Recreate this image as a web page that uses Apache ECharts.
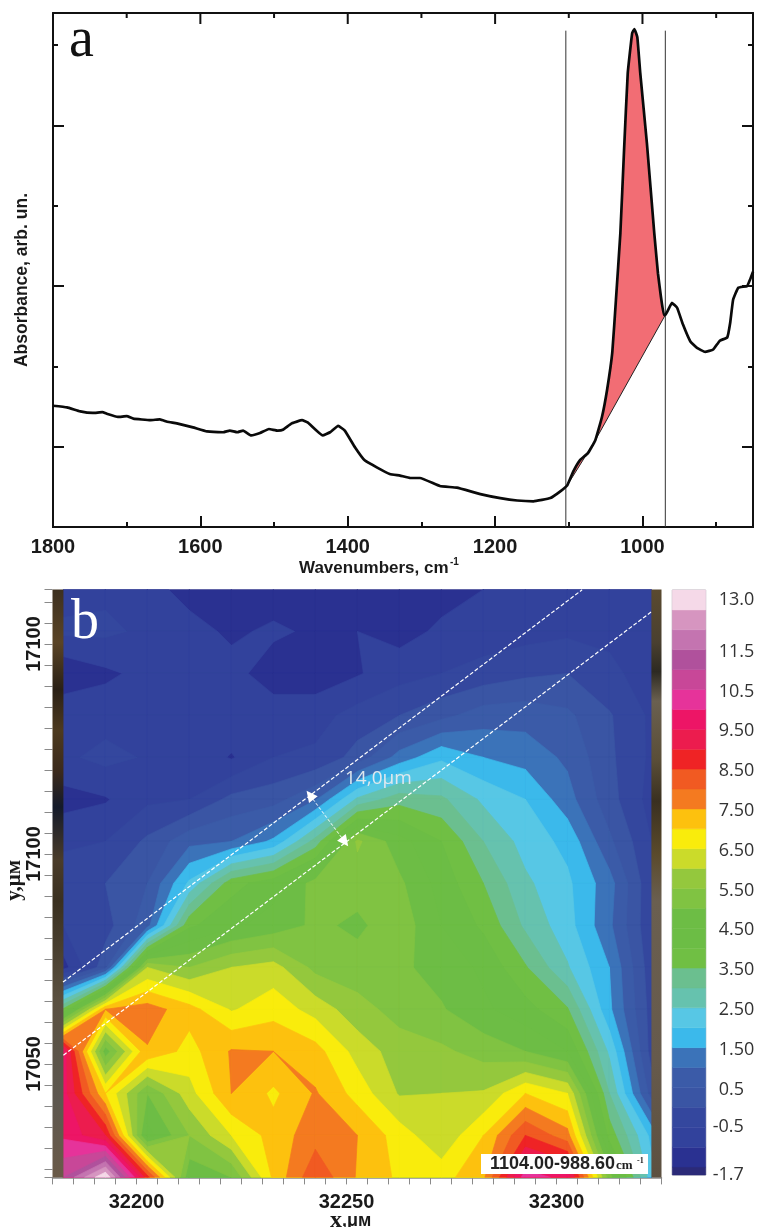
<!DOCTYPE html>
<html><head><meta charset="utf-8">
<style>html,body{margin:0;padding:0;background:#fff}#c{width:759px;height:1227px}</style>
<script src="https://cdn.jsdelivr.net/npm/echarts@6/dist/echarts.min.js"></script>
</head><body><div id="c"></div>
<script>
// ---------- panel a: spectrum ----------
const spectrumWn = [1800,1781,1763,1746,1733,1727,1712,1700,1691,1668,1655,1645,1632,1610,1591,1569,1560,1550,1542,1531,1519,1507,1495,1488,1476,1462,1454,1434,1424,1413,1404,1390,1377,1360,1343,1329,1315,1302,1275,1252,1220,1193,1170,1148,1125,1112,1102,1094,1085,1074,1064,1055,1048,1041,1036,1030,1025,1020,1014,1011,1007,1003,994,984,979,975,971,969,960,953,945,935,926,915,904,895,885,881,877,870,858,854,850];
const spectrumAbs = [.151,.149,.144,.142,.143,.141,.137,.138,.135,.133,.134,.131,.129,.124,.119,.118,.120,.118,.120,.114,.117,.122,.120,.121,.129,.133,.130,.114,.118,.126,.120,.099,.083,.074,.066,.064,.061,.061,.051,.049,.041,.036,.033,.032,.036,.044,.052,.069,.083,.092,.108,.137,.171,.217,.283,.366,.469,.565,.615,.620,.610,.565,.478,.366,.316,.287,.264,.264,.279,.273,.252,.231,.223,.218,.221,.232,.236,.254,.283,.298,.300,.308,.318];
const chordWn = [1102,1064,969];
const chordAbs = [.052,.108,.264];
const markerWn = [1104,969];
const markerTop = .618;
const xMajorA = [1800,1600,1400,1200,1000];
const xMinorA = [1700,1500,1300,1100,900];
const yMajorA = [.1,.3,.5];
const yMinorA = [.2,.4,.6];
const absMax = .64;

// ---------- panel b: map ----------
const mapX = [32182.6,32192.6,32202.6,32212.6,32222.6,32232.6,32242.6,32252.6,32262.6,32272.6,32282.6,32292.6,32302.6,32312.6,32322.6];
const mapY = [17163,17153,17143,17133,17123,17113,17103,17093,17083,17073,17063,17053,17043,17033,17023];
const row00 = [-.7,-.6,-.8,-1.2,-1.3,-1.3,-1.3,-1.3,-1.3,-1.2,-1.0,-.8,-.8,-.7,-.7];
const row01 = [-.4,-.4,-.6,-.8,-1.1,-.9,-1.1,-1.0,-1.2,-.9,-.8,-.7,-.6,-.6,-.7];
const row02 = [-1.4,-1.1,-.85,-.7,-.8,-1.3,-1.3,-1.05,-.7,-.5,-.3,-.1,0,-.4,-.7];
const row03 = [-.6,-.7,-.6,-.6,-.6,-.7,-.7,-.3,0,.35,.75,.8,.6,.05,-.6];
const row04 = [-.6,-.35,-.55,-.6,-1.05,-.5,-.4,.2,1.2,1.9,1.5,1.3,.9,.1,-.6];
const row05 = [-1.2,-1.05,-.6,-.5,.15,.3,.95,2.6,3.3,3.1,2.4,2.0,1.2,.2,-.7];
const row06 = [-.6,-.5,.1,.85,1.0,1.6,3.2,5.6,4.7,4.0,3.0,2.3,1.85,.6,-.5];
const row07 = [-.2,0,.5,2.1,3.8,4.3,5.2,5.2,5.1,4.3,3.5,2.6,2.1,1.2,-.4];
const row08 = [-.5,-.2,.8,3.9,4.4,4.7,5.1,4.9,5.3,4.5,3.9,2.9,2.2,1.1,-.4];
const row09 = [-1.2,.3,6.0,5.5,6.0,6.2,5.35,5.2,5.1,4.8,4.4,3.55,2.55,1.5,-.3];
const row10 = [3.6,7.5,7.75,7.2,6.45,6.8,6.3,5.7,5.3,5.05,4.6,4.2,3.55,1.6,-.2];
const row11 = [9.8,4.7,7.45,6.8,7.55,7.5,7.2,6.3,5.75,5.6,5.3,5.0,4.5,2.4,-.2];
const row12 = [9.7,7.0,5.0,6.3,7.5,6.9,7.55,6.8,5.95,6.0,6.05,7.0,6.5,3.0,.28];
const row13 = [9.9,9.0,4.3,5.5,6.5,7.2,7.8,7.5,6.75,6.1,7.0,8.5,7.7,3.8,1.85];
const row14 = [11,13,8.7,4.6,5.0,7.1,8.4,7.45,6.9,6.8,7.4,10.3,9.8,5.2,2.2];
const mapValues = [row00,row01,row02,row03,row04,row05,row06,row07,row08,row09,row10,row11,row12,row13,row14];

const bandLevels = [-1.7,-1.5,-1,-.5,0,.5,1,1.5,2,2.5,3,3.5,4,4.5,5,5.5,6,6.5,7,7.5,8,8.5,9,9.5,10,10.5,11,11.5,12,12.5,13];
const bandColors = ['#2B2A78','#2A3191','#32429C','#34479E','#3A55A4','#3B5BA8','#3B73B9','#3BB9EB','#57C7E5','#66C2AE','#6BBF8F','#70BF44','#6CBD45','#6DBD45','#80C342','#94C83D','#CBDB2A','#F9EC0C','#FDC10E','#F47A20','#F15A22','#EF2325','#EC1C4E','#ED1566','#E6339A','#C84798','#B0519C','#C474B0','#D695C0','#F5D9E8'];
const colorbarLabels = [13,11.5,10.5,9.5,8.5,7.5,6.5,5.5,4.5,3.5,2.5,1.5,.5];
const colorbarLabelText = {11.5:'11.5',10.5:'10.5',9.5:'9.50',8.5:'8.50',7.5:'7.50',6.5:'6.50',5.5:'5.50',4.5:'4.50',3.5:'3.50',2.5:'2.50',1.5:'1.50',.5:'0.5'};
const colorbarNegLabels = [-.5,-1.7];

const xTicksB = []; for (let v = 32180; v <= 32325; v += 5) xTicksB.push(v);
const yTicksB = [17023,17163]; for (let v = 17025; v <= 17160; v += 5) yTicksB.push(v);
const xLabelsB = [32200,32250,32300];
const yLabelsB = [17050,17100,17150];
const yLabelText = {17050:'17050',17100:'17100',17150:'17100'};

const scanLineUpperX = [32182.5,32306.1], scanLineUpperY = [17069.5,17162.9];
const scanLineLowerX = [32182.6,32322.5], scanLineLowerY = [17052.1,17157.6];
const widthArrowX = [32241.3,32249.6], widthArrowY = [17114,17102.9];

const stripLeftStops = [['0','#3d3020'],['.09','#5a4426'],['.17','#2a2015'],['.24','#4d3a1f'],['.31','#3b2a1c'],['.37','#141a2a'],['.46','#4a3c2a'],['.53','#3a3020'],['.7','#5a5040'],['.87','#5e5850'],['1','#6a5a48']];
const stripRightStops = [['0','#5a4a30'],['.09','#4a4030'],['.14','#2d2a22'],['.19','#6a6050'],['.29','#5a4e38'],['.36','#3a3020'],['.45','#5a4a2c'],['.53','#6a5f50'],['.8','#665a4c'],['1','#5c5040']];

const bold = 'Liberation Sans';
const axisBlack = {lineStyle:{color:'#111',width:2}};
function aXAxis(ticks, len, labels){
  return {gridIndex:0,type:'value',inverse:true,min:850,max:1800,position:'bottom',
    axisLine:{show:true,onZero:false,...axisBlack},splitLine:{show:false},
    axisTick:{show:true,inside:true,length:len,customValues:ticks,lineStyle:{color:'#111',width:2}},
    axisLabel:labels?{show:true,customValues:labels,margin:10,fontFamily:bold,fontWeight:'bold',fontSize:20,color:'#1a1a1a',formatter:v=>String(v)}:{show:false}};
}
function aYAxis(pos, ticks, len){
  return {gridIndex:0,type:'value',min:0,max:absMax,position:pos,
    axisLine:{show:true,onZero:false,...axisBlack},splitLine:{show:false},
    axisTick:{show:true,inside:true,length:len,customValues:ticks,lineStyle:{color:'#111',width:2}},
    axisLabel:{show:false}};
}
function renderTopTick(params, api){
  const v = api.value(0), isMajor = xMajorA.includes(v);
  const p = api.coord([v,absMax]);
  return {type:'line',shape:{x1:p[0],y1:p[1],x2:p[0],y2:p[1]+(isMajor?11:5)},style:{stroke:'#111',lineWidth:2}};
}

function clipQuad(pts, level){
  const out = [];
  for (let i=0;i<pts.length;i++){
    const a=pts[i], b=pts[(i+1)%pts.length];
    if (a[2]>=level) out.push(a);
    if ((a[2]>=level)!==(b[2]>=level)){
      const t=(level-a[2])/(b[2]-a[2]);
      out.push([a[0]+t*(b[0]-a[0]),a[1]+t*(b[1]-a[1]),level]);
    }
  }
  return out;
}
function renderBand(params, api){
  const idx = params.dataIndex, level = bandLevels[idx], color = bandColors[idx];
  const children = [];
  for (let r=0;r<mapY.length-1;r++) for (let c=0;c<mapX.length-1;c++){
    const p=(rr,cc)=>{const q=api.coord([mapX[cc],mapY[rr]]);return [q[0],q[1],mapValues[rr][cc]];};
    const poly = clipQuad([p(r,c),p(r,c+1),p(r+1,c+1),p(r+1,c)],level);
    if (poly.length>2) children.push({type:'polygon',shape:{points:poly.map(q=>[q[0],q[1]])},style:{fill:color,stroke:color,lineWidth:.7}});
  }
  return {type:'group',children};
}
function renderStrip(params, api){
  const d = params.dataIndex===0?[32180,mapX[0],stripLeftStops]:[mapX[mapX.length-1],32325,stripRightStops];
  const a=api.coord([d[0],17163]), b=api.coord([d[1],17023]);
  return {type:'rect',shape:{x:a[0],y:a[1],width:b[0]-a[0],height:b[1]-a[1]},
    style:{fill:new echarts.graphic.LinearGradient(0,0,0,1,d[2].map(s=>({offset:+s[0],color:s[1]})))}};
}
function renderColorbar(params, api){
  const i=params.dataIndex;
  const a=api.coord([0,bandLevels[i+1]]), b=api.coord([1,bandLevels[i]]);
  return {type:'rect',shape:{x:a[0],y:a[1],width:b[0]-a[0],height:b[1]-a[1]},style:{fill:bandColors[i],stroke:bandColors[i],lineWidth:.5}};
}
function renderPeak(params, api){
  const pts=[];
  spectrumWn.forEach((w,i)=>{ if(w<=chordWn[0]&&w>=chordWn[2]) pts.push(api.coord([w,spectrumAbs[i]])); });
  for(let i=chordWn.length-2;i>0;i--) pts.push(api.coord([chordWn[i],chordAbs[i]]));
  return {type:'polygon',shape:{points:pts},style:{fill:'#F26D74'}};
}

const option = {
  animation:false, backgroundColor:'#fff',
  grid:[
    {left:53,top:13,width:700,height:514},
    {left:52.5,top:589.4,width:609,height:588},
    {left:672.3,top:590,width:33.4,height:585,show:true,borderColor:'#aeaeb4',borderWidth:1}
  ],
  xAxis:[
    aXAxis(xMajorA,11,xMajorA), aXAxis(xMinorA,5),
    {gridIndex:1,type:'value',min:32180,max:32325,position:'bottom',
      axisLine:{show:true,onZero:false,lineStyle:{color:'#8a8a8a',width:1.5}},splitLine:{show:false},
      axisTick:{show:true,length:7,customValues:xTicksB,lineStyle:{color:'#8a8a8a'}},
      axisLabel:{customValues:xLabelsB,margin:15,fontFamily:bold,fontWeight:'bold',fontSize:20,color:'#1a1a1a',formatter:v=>String(v)}},
    {gridIndex:2,type:'value',min:0,max:1,show:false}
  ],
  yAxis:[
    aYAxis('left',yMajorA,11), aYAxis('left',yMinorA,5), aYAxis('right',yMajorA,11), aYAxis('right',yMinorA,5),
    {gridIndex:1,type:'value',min:17023,max:17163,position:'left',
      axisLine:{show:false,onZero:false},splitLine:{show:false},
      axisTick:{show:true,length:8,customValues:yTicksB,lineStyle:{color:'#8a8a8a'}},
      axisLabel:{customValues:yLabelsB,rotate:90,margin:8,fontFamily:bold,fontWeight:'bold',fontSize:20,color:'#1a1a1a',formatter:v=>yLabelText[v]}},
    {gridIndex:2,type:'value',min:-1.7,max:13,position:'right',
      axisLine:{show:false,onZero:false},axisTick:{show:false},splitLine:{show:false},
      axisLabel:{customValues:colorbarLabels,margin:13,align:'left',padding:[4,0,0,0],fontFamily:'Open Sans',fontSize:18,color:'#333',
        rich:{top:{fontFamily:'Open Sans',fontSize:18,color:'#333',padding:[16,0,0,0]}},
        formatter:v=>v===13?'{top|13.0}':colorbarLabelText[v]}},
    {gridIndex:2,type:'value',min:-1.7,max:13,position:'right',
      axisLine:{show:false,onZero:false},axisTick:{show:false},splitLine:{show:false},
      axisLabel:{customValues:colorbarNegLabels,margin:7,align:'left',padding:[4,0,0,0],fontFamily:'Open Sans',fontSize:18,color:'#333',formatter:v=>v===-.5?'-0.5':'-1.7'}}
  ],
  series:[
    {type:'custom',xAxisIndex:0,yAxisIndex:0,data:[0],renderItem:renderPeak,silent:true,z:1},
    {type:'line',xAxisIndex:0,yAxisIndex:0,data:chordWn.map((w,i)=>[w,chordAbs[i]]),showSymbol:false,lineStyle:{color:'#222',width:1},z:2},
    {type:'line',xAxisIndex:0,yAxisIndex:0,data:[[markerWn[0],0],[markerWn[0],markerTop]],showSymbol:false,lineStyle:{color:'#333',width:1},z:2},
    {type:'line',xAxisIndex:0,yAxisIndex:0,data:[[markerWn[1],0],[markerWn[1],markerTop]],showSymbol:false,lineStyle:{color:'#333',width:1},z:2},
    {type:'line',xAxisIndex:0,yAxisIndex:0,data:spectrumWn.map((w,i)=>[w,spectrumAbs[i]]),showSymbol:false,smooth:.1,lineStyle:{color:'#0a0a0a',width:2.7},z:3},
    {type:'line',xAxisIndex:0,yAxisIndex:0,data:[[850,absMax],[1800,absMax]],showSymbol:false,clip:false,lineStyle:{color:'#111',width:2},z:4},
    {type:'custom',xAxisIndex:0,yAxisIndex:0,data:xMajorA.concat(xMinorA).map(v=>[v]),encode:{x:0},renderItem:renderTopTick,silent:true,z:5},

    {type:'custom',xAxisIndex:2,yAxisIndex:4,data:bandLevels.slice(0,-1),renderItem:renderBand,silent:true,z:1,clip:true},
    {type:'custom',xAxisIndex:2,yAxisIndex:4,data:[0,1],renderItem:renderStrip,silent:true,z:2},
    {type:'line',xAxisIndex:2,yAxisIndex:4,data:scanLineUpperX.map((x,i)=>[x,scanLineUpperY[i]]),showSymbol:false,lineStyle:{color:'#fff',width:1.2,type:[4,2]},z:3},
    {type:'line',xAxisIndex:2,yAxisIndex:4,data:scanLineLowerX.map((x,i)=>[x,scanLineLowerY[i]]),showSymbol:false,lineStyle:{color:'#fff',width:1.2,type:[4,2]},z:3},
    {type:'line',xAxisIndex:2,yAxisIndex:4,data:widthArrowX.map((x,i)=>[x,widthArrowY[i]]),showSymbol:false,lineStyle:{color:'#fff',width:1,type:[3,2]},z:3,
      markPoint:{symbol:'triangle',symbolSize:11,silent:true,label:{show:false},itemStyle:{color:'#fff'},
        data:[{coord:[widthArrowX[0],widthArrowY[0]],symbolRotate:38},{coord:[widthArrowX[1],widthArrowY[1]],symbolRotate:218}]}},

    {type:'custom',xAxisIndex:3,yAxisIndex:5,data:bandColors.map((c,i)=>i),renderItem:renderColorbar,silent:true}
  ],
  graphic:[
    {type:'text',left:69,top:13,z:20,style:{text:'a',font:'56px "Liberation Serif"',fill:'#111'}},
    {type:'text',left:71,top:595,z:20,style:{text:'b',font:'56px "Liberation Serif"',fill:'#fff'}},
    {type:'text',left:345,top:769,z:20,style:{text:'14,0µm',font:'19px "Open Sans"',fill:'#dfe8ee'}},
    {type:'text',left:299,top:560,z:20,style:{text:'Wavenumbers, cm',font:'bold 17px "Liberation Sans"',fill:'#1a1a1a'}},
    {type:'text',left:450,top:557,z:20,style:{text:'-1',font:'bold 10px "Liberation Sans"',fill:'#1a1a1a'}},
    {type:'text',rotation:Math.PI/2,left:13,top:193,z:20,style:{text:'Absorbance, arb. un.',font:'bold 17.5px "Liberation Sans"',fill:'#1a1a1a'}},
    {type:'text',left:330,top:1209,z:20,style:{text:'x',font:'bold 24px "Liberation Serif"',fill:'#1a1a1a'}},
    {type:'text',left:342,top:1212,z:20,style:{text:',μм',font:'bold 18px "Liberation Sans"',fill:'#1a1a1a'}},
    {type:'text',rotation:Math.PI/2,left:4,top:860,z:20,style:{text:'y,μм',font:'bold 21px "Liberation Serif"',fill:'#1a1a1a'}},
    {type:'rect',left:481,top:1154,z:20,shape:{width:167,height:20},style:{fill:'#fff'}},
    {type:'text',left:490,top:1155,z:21,style:{text:'1104.00-988.60',font:'bold 18px "Liberation Sans"',fill:'#222'}},
    {type:'text',left:616,top:1159,z:21,style:{text:'cm',font:'bold 13px "Liberation Serif"',fill:'#222'}},
    {type:'text',left:637,top:1157,z:21,style:{text:'-1',font:'bold 8px "Liberation Serif"',fill:'#222'}}
  ]
};
echarts.init(document.getElementById('c'),null,{renderer:'canvas'}).setOption(option);
</script></body></html>
